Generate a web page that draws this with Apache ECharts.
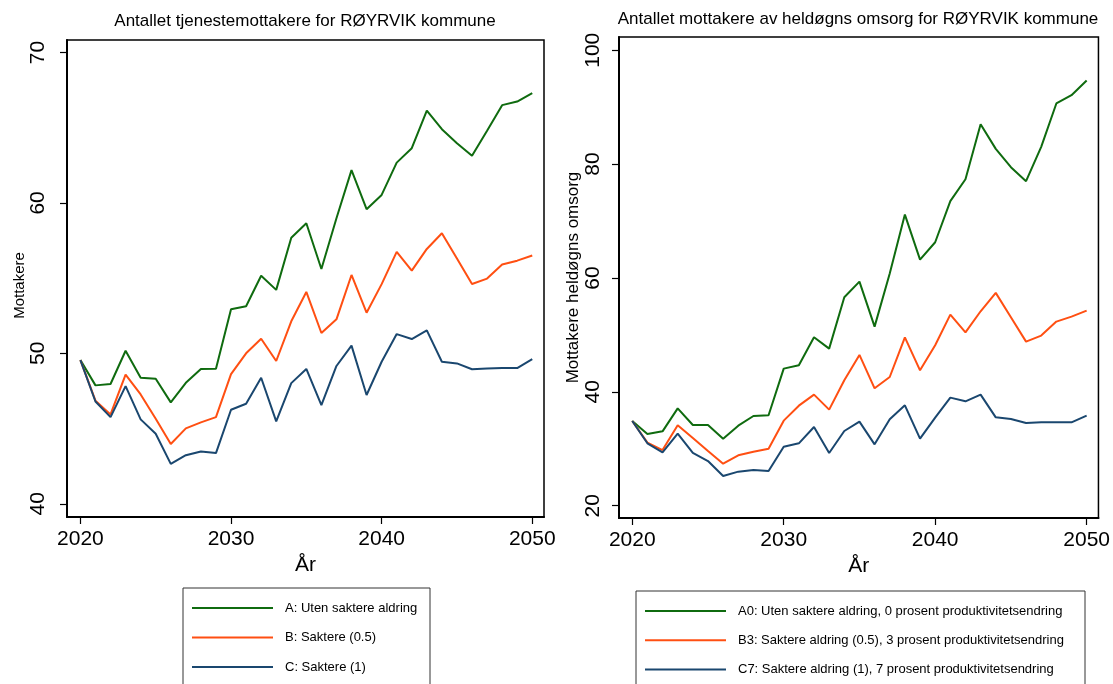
<!DOCTYPE html>
<html>
<head>
<meta charset="utf-8">
<script src="https://cdn.jsdelivr.net/npm/echarts@6/dist/echarts.min.js"></script>
<style>
html,body{margin:0;padding:0;background:#fff;}
#chart{width:1113px;height:684px;}
</style>
</head>
<body>
<div id="chart"></div>
<script>
// ---- Data ----
const years = [2020,2021,2022,2023,2024,2025,2026,2027,2028,2029,2030,2031,2032,2033,2034,2035,2036,2037,2038,2039,2040,2041,2042,2043,2044,2045,2046,2047,2048,2049,2050];

// Left chart: Antallet tjenestemottakere
const leftA = [49.55,47.87,47.96,50.17,48.38,48.31,46.74,48.04,48.96,48.98,52.93,53.13,55.16,54.22,57.69,58.65,55.61,58.98,62.18,59.58,60.53,62.68,63.64,66.14,64.90,63.97,63.13,64.79,66.50,66.74,67.30];
const leftB = [49.55,46.85,45.94,48.58,47.27,45.65,43.97,45.01,45.41,45.76,48.62,50.00,50.97,49.49,52.13,54.08,51.35,52.26,55.21,52.70,54.60,56.74,55.50,56.94,57.98,56.30,54.61,54.97,55.90,56.16,56.50];
const leftC = [49.55,46.80,45.76,47.82,45.61,44.65,42.65,43.23,43.48,43.37,46.25,46.65,48.38,45.48,48.02,48.96,46.56,49.16,50.51,47.23,49.44,51.28,50.95,51.53,49.44,49.33,48.94,49.00,49.02,49.02,49.62];

// Right chart: Antallet mottakere av heldøgns omsorg
const rightA0 = [34.88,32.60,33.06,37.10,34.18,34.18,31.78,34.06,35.76,35.88,44.08,44.66,49.58,47.59,56.61,59.37,51.46,60.80,71.14,63.23,66.28,73.49,77.35,87.02,82.68,79.46,77.00,83.03,90.65,92.11,94.69];
const rightB3 = [34.88,31.07,29.78,34.12,31.89,29.60,27.38,28.85,29.49,30.02,34.94,37.57,39.51,36.87,42.03,46.48,40.62,42.61,49.58,43.78,48.18,53.57,50.46,54.15,57.38,53.10,48.82,49.88,52.34,53.22,54.27];
const rightC7 = [34.88,30.96,29.37,32.65,29.26,27.85,25.21,25.98,26.27,26.09,30.37,30.96,33.83,29.26,33.12,34.76,30.78,35.17,37.63,31.78,35.47,38.98,38.34,39.51,35.52,35.23,34.53,34.65,34.65,34.65,35.82];

const xTicks = [2020,2030,2040,2050];
const leftYTicks = [40,50,60,70];
const rightYTicks = [20,40,60,80,100];

const leftNames = ['A: Uten saktere aldring','B: Saktere (0.5)','C: Saktere (1)'];
const rightNames = ['A0: Uten saktere aldring, 0 prosent produktivitetsendring','B3: Saktere aldring (0.5), 3 prosent produktivitetsendring','C7: Saktere aldring (1), 7 prosent produktivitetsendring'];

const titles = ['Antallet tjenestemottakere for RØYRVIK kommune','Antallet mottakere av heldøgns omsorg for RØYRVIK kommune'];
const yNames = ['Mottakere','Mottakere heldøgns omsorg'];
const xName = 'År';

// ---- Styles ----
const FONT = "'Liberation Sans', Arial, Helvetica, sans-serif";
const colors = ['#0f6b0f','#ff4f12','#1a476f'];

function pairs(vals){ return years.map((y,i)=>[y, vals[i]]); }

function xAxisDef(gridIndex, min, max){
  return {
    type:'value', gridIndex, min, max,
    name: xName, nameLocation:'middle', nameGap:36,
    nameTextStyle:{fontFamily:FONT, fontSize:21, color:'#000'},
    splitLine:{show:false},
    axisLine:{show:true, onZero:false, lineStyle:{color:'#000', width:2}},
    axisTick:{show:true, length:7, lineStyle:{color:'#000', width:1.2}, customValues:xTicks},
    axisLabel:{fontFamily:FONT, fontSize:21, color:'#000', margin:12, customValues:xTicks,
      formatter:v=>String(v)}
  };
}
function yAxisDef(gridIndex, min, max, ticks, name, nameGap, nameSize, labelMargin, namePad){
  return {
    type:'value', gridIndex, min, max,
    name, nameLocation:'middle', nameGap, nameRotate:90,
    nameTextStyle:{fontFamily:FONT, fontSize:nameSize, color:'#000', padding:namePad},
    splitLine:{show:false},
    axisLine:{show:true, onZero:false, lineStyle:{color:'#000', width:2}},
    axisTick:{show:true, length:7, lineStyle:{color:'#000', width:1.2}, customValues:ticks},
    axisLabel:{fontFamily:FONT, fontSize:21, color:'#000', rotate:90, margin:labelMargin, customValues:ticks,
      formatter:v=>String(v)}
  };
}
function lineSeries(name, vals, idx, color){
  return {
    type:'line', name, data:pairs(vals), xAxisIndex:idx, yAxisIndex:idx,
    symbol:'none', smooth:false,
    lineStyle:{color, width:2}, itemStyle:{color},
    emphasis:{disabled:true}
  };
}
function legendDef(names, left, top, gap){
  return {
    data:names, orient:'vertical', left, top,
    icon:'rect', itemWidth:81, itemHeight:2, itemGap:gap,
    padding:0, selectedMode:false,
    textStyle:{fontFamily:FONT, fontSize:13, lineHeight:14, color:'#000', padding:[0,0,0,7]}
  };
}

const chart = echarts.init(document.getElementById('chart'), null, {renderer:'canvas'});
chart.setOption({
  animation:false,
  backgroundColor:'#fff',
  title:[
    {text:titles[0], left:305, top:13, textAlign:'center', padding:0,
     textStyle:{fontFamily:FONT, fontSize:17, fontWeight:'normal', color:'#000'}},
    {text:titles[1], left:858, top:11, textAlign:'center', padding:0,
     textStyle:{fontFamily:FONT, fontSize:17, fontWeight:'normal', color:'#000'}}
  ],
  graphic:[
    {type:'rect', shape:{x:183, y:588, width:247, height:130}, style:{fill:'#fff', stroke:'#333', lineWidth:1}, z:-1, silent:true},
    {type:'rect', shape:{x:636, y:591, width:449, height:130}, style:{fill:'#fff', stroke:'#333', lineWidth:1}, z:-1, silent:true}
  ],
  grid:[
    {left:67, top:40, width:477, height:477, show:true, borderColor:'#000', borderWidth:1.5, backgroundColor:'#fff'},
    {left:619, top:37, width:481, height:481, show:true, borderColor:'#000', borderWidth:1.5, backgroundColor:'#fff'}
  ],
  xAxis:[ xAxisDef(0, 2019.11, 2050.78), xAxisDef(1, 2019.125, 2050.78) ],
  yAxis:[
    yAxisDef(0, 39.12, 70.83, leftYTicks, yNames[0], 40, 15, 18, [0,14,0,0]),
    yAxisDef(1, 17.84, 102.33, rightYTicks, yNames[1], 21, 17, 15, 0)
  ],
  legend:[
    legendDef(leftNames, 192, 601, 15.5),
    legendDef(rightNames, 645, 604, 15.2)
  ],
  series:[
    lineSeries(leftNames[0], leftA, 0, colors[0]),
    lineSeries(leftNames[1], leftB, 0, colors[1]),
    lineSeries(leftNames[2], leftC, 0, colors[2]),
    lineSeries(rightNames[0], rightA0, 1, colors[0]),
    lineSeries(rightNames[1], rightB3, 1, colors[1]),
    lineSeries(rightNames[2], rightC7, 1, colors[2])
  ]
});
</script>
</body>
</html>
